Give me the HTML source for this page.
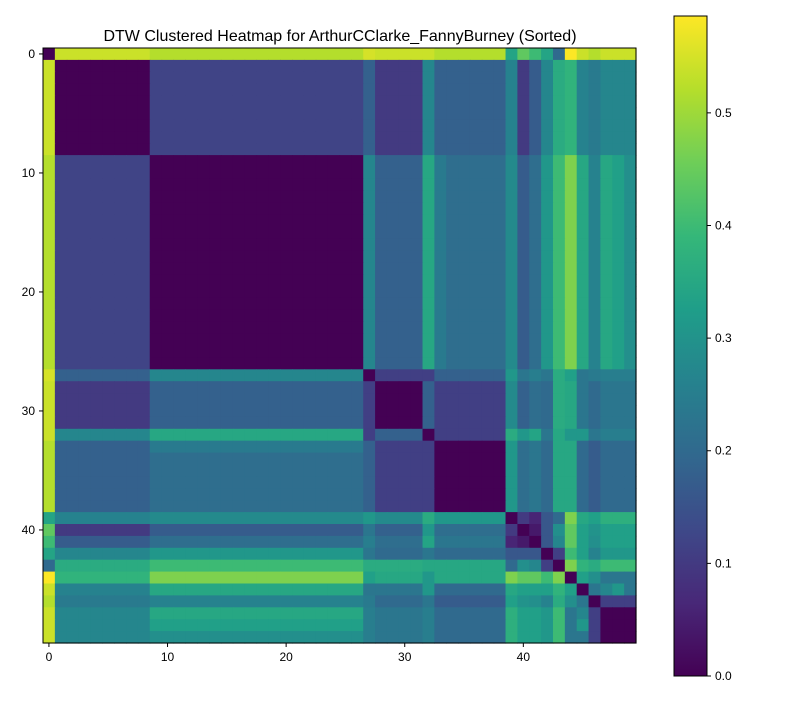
<!DOCTYPE html>
<html><head><meta charset="utf-8"><style>
body{margin:0;background:#fff;font-family:"Liberation Sans",sans-serif}
svg text{font-family:"Liberation Sans",sans-serif}
</style></head><body>
<svg id="chart" width="800" height="700" xmlns="http://www.w3.org/2000/svg">
<text x="340" y="41" font-size="16" text-anchor="middle">DTW Clustered Heatmap for ArthurCClarke_FannyBurney (Sorted)</text>
<g id="cells"></g>
<g id="axes"></g>
<g id="cbar"></g>
</svg>
<script>
// Row definitions (run-length: [value, count]) starting at column 0; only upper triangle used, mirrored.
const rowTypes = {
  r0:  [[0,1],[0.54,8],[0.52,18],[0.55,1],[0.54,4],[0.54,1],[0.52,6],[0.34,1],[0.44,1],[0.40,1],[0.34,1],[0.20,1],[0.585,1],[0.54,1],[0.52,1],[0.54,3]],
  rA:  [[0.55,1],[0,8],[0.12,18],[0.18,1],[0.10,4],[0.27,1],[0.18,6],[0.26,1],[0.10,1],[0.17,1],[0.27,1],[0.36,1],[0.38,1],[0.26,1],[0.24,1],[0.27,3]],
  rB:  [[0.56,1],[0.12,8],[0,18],[0.27,1],[0.18,4],[0.35,1],[0.24,1],[0.21,5],[0.28,1],[0.17,1],[0.21,1],[0.31,1],[0.40,1],[0.47,1],[0.35,1],[0.26,1],[0.35,1],[0.33,1],[0.29,1]],
  r27: [[0.55,1],[0.18,8],[0.27,18],[0,1],[0.11,4],[0.11,1],[0.18,6],[0.31,1],[0.23,1],[0.25,1],[0.23,1],[0.36,1],[0.33,1],[0.23,1],[0.24,1],[0.25,3]],
  rC:  [[0.54,1],[0.10,8],[0.18,18],[0.11,1],[0,4],[0.18,1],[0.11,6],[0.28,1],[0.18,1],[0.21,1],[0.20,1],[0.36,1],[0.35,1],[0.23,1],[0.20,1],[0.23,3]],
  r32: [[0.54,1],[0.27,8],[0.35,18],[0.11,1],[0.18,4],[0,1],[0.11,6],[0.36,1],[0.31,1],[0.34,1],[0.23,1],[0.35,1],[0.31,1],[0.31,1],[0.23,1],[0.25,3]],
  rD:  [[0.52,1],[0.17,8],[0.21,18],[0.18,1],[0.11,4],[0.11,1],[0,6],[0.31,1],[0.21,1],[0.23,1],[0.20,1],[0.35,1],[0.35,1],[0.20,1],[0.17,1],[0.20,3]],
  r39: [[0.34,1],[0.26,8],[0.28,18],[0.31,1],[0.28,4],[0.36,1],[0.31,6],[0,1],[0.10,1],[0.06,1],[0.16,1],[0.20,1],[0.47,1],[0.35,1],[0.33,1],[0.37,3]],
  r40: [[0.44,1],[0.10,8],[0.18,18],[0.23,1],[0.18,4],[0.31,1],[0.21,6],[0.10,1],[0,1],[0.04,1],[0.16,1],[0.29,1],[0.44,1],[0.33,1],[0.30,1],[0.33,3]],
  r41: [[0.40,1],[0.16,8],[0.21,18],[0.25,1],[0.21,4],[0.34,1],[0.23,6],[0.06,1],[0.04,1],[0,1],[0.16,1],[0.27,1],[0.44,1],[0.33,1],[0.29,1],[0.33,3]],
  r42: [[0.34,1],[0.27,8],[0.31,18],[0.23,1],[0.20,4],[0.23,1],[0.20,6],[0.16,1],[0.16,1],[0.16,1],[0,1],[0.11,1],[0.40,1],[0.33,1],[0.26,1],[0.31,3]],
  r43: [[0.20,1],[0.36,8],[0.40,18],[0.36,1],[0.36,4],[0.35,1],[0.35,6],[0.20,1],[0.29,1],[0.27,1],[0.11,1],[0,1],[0.47,1],[0.38,1],[0.36,1],[0.40,3]],
  r44: [[0.585,1],[0.38,8],[0.47,18],[0.33,1],[0.35,4],[0.31,1],[0.35,6],[0.47,1],[0.44,1],[0.44,1],[0.40,1],[0.47,1],[0,1],[0.33,1],[0.29,1],[0.23,3]],
  r45: [[0.54,1],[0.26,8],[0.35,18],[0.23,1],[0.23,4],[0.31,1],[0.20,6],[0.35,1],[0.33,1],[0.33,1],[0.33,1],[0.38,1],[0.33,1],[0,1],[0.23,1],[0.27,1],[0.31,1],[0.23,1]],
  r46: [[0.52,1],[0.24,8],[0.26,18],[0.24,1],[0.20,4],[0.23,1],[0.17,6],[0.33,1],[0.30,1],[0.29,1],[0.26,1],[0.36,1],[0.29,1],[0.23,1],[0,1],[0.11,3]],
  rE:  [[0.54,1],[0.27,8],[0.33,18],[0.25,1],[0.23,4],[0.25,1],[0.20,6],[0.37,1],[0.33,1],[0.33,1],[0.31,1],[0.40,1],[0.23,1],[0.27,1],[0.11,1],[0,3]]
};
const rowOrder = [["r0",1],["rA",8],["rB",18],["r27",1],["rC",4],["r32",1],["rD",6],["r39",1],["r40",1],["r41",1],["r42",1],["r43",1],["r44",1],["r45",1],["r46",1],["rE",3]];
const xTicks = [0,10,20,30,40];
const yTicks = [0,10,20,30,40];
const cbTicks = [0.0,0.1,0.2,0.3,0.4,0.5];
const vmin = 0, vmax = 0.586;

const N = 50, X0 = 43, Y0 = 48, W = 593, H = 595;
const cw = W/N, ch = H/N;
const xs = i => X0 + i*cw, ys = i => Y0 + i*ch;
const VIR = ["#440154","#482878","#3e4989","#31688e","#26828e","#1f9e89","#35b779","#6ece58","#b5de2b","#fde725"];
function hex(h){return [1,3,5].map(k=>parseInt(h.substr(k,2),16));}
function viridis(v){
  let t = Math.max(0,Math.min(1,(v-vmin)/(vmax-vmin)))*(VIR.length-1);
  let i = Math.min(Math.floor(t), VIR.length-2), f = t-i;
  const a=hex(VIR[i]), b=hex(VIR[i+1]);
  return "rgb("+a.map((c,k)=>Math.round(c+(b[k]-c)*f)).join(",")+")";
}
function expand(rl){const out=[];rl.forEach(([v,c])=>{for(let k=0;k<c;k++)out.push(v);});return out;}
const rows=[];rowOrder.forEach(([name,c])=>{for(let k=0;k<c;k++)rows.push(expand(rowTypes[name]));});
const M=[];for(let i=0;i<N;i++){M.push([]);for(let j=0;j<N;j++){M[i].push(j>=i?rows[i][j]:rows[j][i]);}}

const NS="http://www.w3.org/2000/svg";
function el(tag,attrs,parent){const e=document.createElementNS(NS,tag);for(const k in attrs)e.setAttribute(k,attrs[k]);parent.appendChild(e);return e;}
const cells=document.getElementById("cells");
for(let i=0;i<N;i++)for(let j=0;j<N;j++){
  const r=el("rect",{x:xs(j),y:ys(i),width:cw+0.6,height:ch+0.6,fill:viridis(M[i][j])},cells);
  
  
}
const axes=document.getElementById("axes");
const frame=el("rect",{x:X0,y:Y0,width:W,height:H,fill:"none",stroke:"#000","stroke-width":1},axes);


xTicks.forEach(t=>{
  const x=xs(t)+cw/2;
  el("line",{x1:x,x2:x,y1:Y0+H,y2:Y0+H+4,stroke:"#000"},axes);
  const tx=el("text",{x:x,y:Y0+H+18,"font-size":12,"text-anchor":"middle"},axes);tx.textContent=t;
  
  
});
yTicks.forEach(t=>{
  const y=ys(t)+ch/2;
  el("line",{x1:X0-4,x2:X0,y1:y,y2:y,stroke:"#000"},axes);
  const tx=el("text",{x:X0-8,y:y+4,"font-size":12,"text-anchor":"end"},axes);tx.textContent=t;
  
  
});
const cb=document.getElementById("cbar");
const CX=674,CW=33,CT=16,CB=676;
const defs=el("defs",{},cb);
const lg=el("linearGradient",{id:"vg",x1:0,y1:1,x2:0,y2:0},defs);
VIR.forEach((c,k)=>el("stop",{offset:k/(VIR.length-1),"stop-color":c},lg));
const bar=el("rect",{x:CX,y:CT,width:CW,height:CB-CT,fill:"url(#vg)",stroke:"#000","stroke-width":1},cb);


const cy=v=>CB-(v-vmin)/(vmax-vmin)*(CB-CT);
cbTicks.forEach(t=>{
  const y=cy(t);
  el("line",{x1:CX+CW,x2:CX+CW+4,y1:y,y2:y,stroke:"#000"},cb);
  const tx=el("text",{x:CX+CW+8,y:y+4,"font-size":12},cb);tx.textContent=t.toFixed(1);
  
  
});
</script>
</body></html>
